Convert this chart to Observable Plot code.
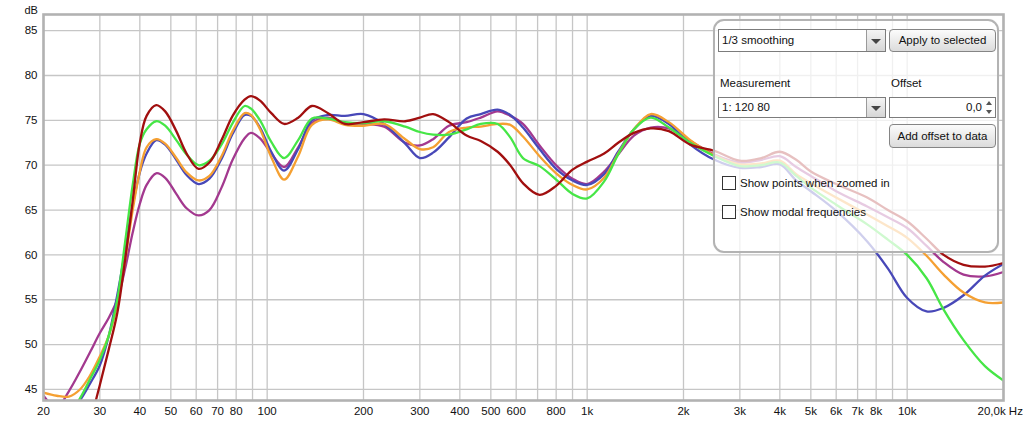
<!DOCTYPE html>
<html>
<head>
<meta charset="utf-8">
<script src="https://cdn.jsdelivr.net/npm/d3@7"></script>
<script src="https://cdn.jsdelivr.net/npm/@observablehq/plot@0.6"></script>
<style>
  html, body { margin: 0; padding: 0; background: #fff; }
  #wrap { position: relative; width: 1024px; height: 421px; font-family: "Liberation Sans", Arial, sans-serif; color: #111; overflow: hidden; }
  #wrap svg { position: absolute; left: 0; top: 0; }
  .abs { position: absolute; box-sizing: border-box; font-size: 11.5px; white-space: nowrap; }
  .panel { left: 713px; top: 19px; width: 286px; height: 234px; border: 2.5px solid #b3b3b3; border-radius: 11px; background: rgba(255,255,255,0.74); box-shadow: 0 0 1px #ddd; }
  .combo { border: 1px solid #7c7c7c; background: #fff; padding-left: 3px; }
  .combo .arr { position: absolute; right: 0; top: 0; bottom: 0; width: 18px; border-left: 1px solid #9a9a9a; background: linear-gradient(#f4f4f4, #d6d6d6); }
  .combo .arr:after { content: ""; position: absolute; left: 4px; top: 50%; margin-top: -2px; border-left: 5px solid transparent; border-right: 5px solid transparent; border-top: 5px solid #444; }
  .btn { border: 1px solid #858585; border-radius: 4px; background: linear-gradient(#fbfbfb, #dcdcdc); text-align: center; }
  .spin { border: 1px solid #7c7c7c; background: #fff; text-align: right; padding-right: 13px; }
  .spin .up, .spin .dn { position: absolute; right: 1px; width: 9px; height: 8px; }
  .spin .up { top: 1px; } .spin .dn { bottom: 1px; }
  .spin .up:after { content: ""; position: absolute; left: 1px; top: 2px; border-left: 3.5px solid transparent; border-right: 3.5px solid transparent; border-bottom: 4px solid #555; }
  .spin .dn:after { content: ""; position: absolute; left: 1px; top: 2px; border-left: 3.5px solid transparent; border-right: 3.5px solid transparent; border-top: 4px solid #555; }
  .chk { width: 14px; height: 14px; border: 1px solid #333; background: #fff; }
</style>
</head>
<body>
<div id="wrap"></div>
<script>
// Frequencies (Hz) shared by all measurements
const freqs = [20, 22, 24, 26, 28, 30, 32, 34, 36, 38, 40, 42, 45, 48, 52, 56, 61, 66, 72, 78, 85, 89, 95, 103, 113, 125, 138, 155, 175, 200, 232, 270, 300, 330, 370, 420, 465, 525, 575, 630, 710, 800, 900, 1000, 1130, 1250, 1400, 1580, 1800, 2100, 2500, 3000, 3500, 4000, 4500, 5000, 6000, 7500, 8700, 10000, 11500, 13000, 15000, 17500, 20000];

const redDB = [36, 36, 36.5, 38, 41.5, 45.5, 49.5, 53.5, 59.5, 66, 72.5, 75.5, 76.7, 76.0, 73.8, 71.3, 69.6, 70.3, 72.8, 75.5, 77.3, 77.7, 77.2, 75.8, 74.6, 75.3, 76.6, 75.8, 74.6, 74.8, 75.1, 74.9, 75.3, 75.7, 74.8, 73.3, 72.7, 71.5, 70.0, 68.0, 66.7, 67.7, 69.5, 70.4, 71.3, 72.5, 73.6, 74.1, 73.8, 72.3, 71.6, 70.5, 70.8, 71.5, 70.6, 69.3, 67.9, 66.4, 65.0, 63.75, 61.8, 60.0, 58.9, 58.7, 59.1];
const greenDB = [40, 40.5, 42, 44.0, 46.2, 48.3, 51.0, 55.0, 61.5, 67.8, 72.4, 74.0, 74.9, 74.4, 72.8, 71.2, 70.0, 70.5, 72.3, 74.7, 76.6, 76.3, 75.0, 72.6, 70.8, 72.8, 75.2, 75.2, 74.8, 74.7, 74.9, 74.3, 73.7, 73.4, 73.4, 74.0, 74.6, 74.6, 73.1, 70.8, 69.9, 68.4, 66.8, 66.3, 68.2, 71.2, 74.0, 75.3, 74.2, 72.5, 71.0, 69.9, 70.0, 70.3, 68.8, 67.5, 65.6, 63.4, 61.7, 60.0, 57.4, 53.9, 50.5, 47.6, 46.0];
const blueDB = [41, 41.5, 42.5, 43.8, 45.7, 47.7, 51.0, 55.5, 60.5, 65.5, 69.2, 71.3, 72.8, 72.3, 70.6, 68.9, 67.9, 68.5, 70.7, 73.5, 75.6, 75.5, 74.2, 71.5, 69.4, 71.8, 75.0, 75.6, 75.5, 75.7, 74.6, 72.4, 70.8, 71.4, 73.1, 75.2, 75.7, 76.2, 75.6, 74.2, 71.8, 69.6, 68.3, 67.8, 69.0, 71.5, 74.0, 75.5, 74.6, 72.3, 70.6, 69.7, 69.8, 70.1, 68.3, 67.1, 64.9, 61.5, 58.5, 55.2, 53.7, 54.1, 55.5, 57.7, 59.0];
const orangeDB = [44.65, 44.3, 44.2, 45.0, 46.6, 48.7, 51.0, 54.5, 59.5, 65.0, 69.3, 72.0, 72.9, 72.4, 70.8, 69.2, 68.3, 68.8, 71.0, 73.8, 75.8, 75.6, 74.0, 70.9, 68.4, 71.0, 74.5, 75.1, 74.5, 74.4, 74.6, 72.9, 71.8, 72.0, 73.7, 74.2, 74.3, 74.6, 74.5, 73.2, 71.0, 69.1, 67.8, 67.3, 68.6, 71.3, 74.0, 75.7, 74.8, 72.8, 71.1, 70.1, 70.2, 70.5, 69.0, 68.0, 66.4, 64.5, 63.2, 61.9, 59.9, 57.8, 55.8, 54.7, 54.7];
const purpleDB = [44.3, 43.0, 44.8, 47.0, 49.2, 51.3, 53.0, 55.0, 58.5, 62.5, 65.7, 67.8, 69.1, 68.6, 66.8, 65.2, 64.4, 65.0, 67.5, 70.6, 73.0, 73.6, 73.0, 71.3, 69.8, 72.0, 74.7, 75.3, 74.7, 74.6, 74.3, 72.5, 72.2, 72.9, 74.4, 74.8, 75.3, 76.0, 75.5, 74.6, 72.2, 70.0, 68.5, 67.9, 69.3, 71.2, 73.3, 74.2, 74.1, 72.7, 71.2, 70.3, 70.6, 71.0, 69.8, 68.8, 67.1, 65.4, 64.2, 63.0, 61.0, 59.2, 57.8, 57.6, 58.1];

// Axis ticks
const yTicks = [45, 50, 55, 60, 65, 70, 75, 80, 85];
const xGrid = [20, 30, 40, 50, 60, 70, 80, 90, 100, 200, 300, 400, 500, 600, 700, 800, 900, 1000, 2000, 3000, 4000, 5000, 6000, 7000, 8000, 9000, 10000, 20000];
const xLabels = [20, 30, 40, 50, 60, 70, 80, 100, 200, 300, 400, 500, 600, 800, 1000, 2000, 3000, 4000, 5000, 6000, 7000, 8000, 10000];
const xLabelEnd = ["20,0k Hz"];

const series = [
  {name: "purple", values: purpleDB, color: "#a3398f"},
  {name: "blue", values: blueDB, color: "#4848b8"},
  {name: "orange", values: orangeDB, color: "#f5a032"},
  {name: "green", values: greenDB, color: "#46e646"},
  {name: "red", values: redDB, color: "#a10f0f"}
];

const fmt = f => f >= 1000 ? (f / 1000) + "k" : String(f);

const lineMarks = series.map(s => Plot.line(
  freqs.map((f, i) => ({f, db: s.values[i]})),
  {x: "f", y: "db", stroke: s.color, strokeWidth: 2.3, curve: "catmull-rom", clip: true}
));

const chart = Plot.plot({
  width: 1024,
  height: 421,
  marginLeft: 43,
  marginRight: 21,
  marginTop: 14,
  marginBottom: 21,
  style: {fontFamily: "'Liberation Sans', Arial, sans-serif", fontSize: "11px", color: "#111", background: "transparent"},
  x: {type: "log", domain: [20, 20000], axis: null},
  y: {domain: [43.77, 86.8], axis: null},
  marks: [
    Plot.ruleX(xGrid, {x: d => d, stroke: "#c6c6c6", strokeWidth: 1.3}),
    Plot.ruleY(yTicks, {y: d => d, stroke: "#c6c6c6", strokeWidth: 1.3}),
    ...lineMarks,
    Plot.frame({stroke: "#b2b2b2", strokeWidth: 2.6}),
    Plot.text(yTicks, {y: d => d, frameAnchor: "left", dx: -6, textAnchor: "end", text: d => String(d), fontSize: 11.5, fill: "#111"}),
    Plot.text(xLabels, {x: d => d, frameAnchor: "bottom", dy: 11, lineAnchor: "middle", text: fmt, fontSize: 11.5, fill: "#111"}),
    Plot.text(xLabelEnd, {x: () => 20000, frameAnchor: "bottom", dy: 11, dx: -26, textAnchor: "start", lineAnchor: "middle", fontSize: 11.5, fill: "#111"}),
    Plot.text(["dB"], {frameAnchor: "top-left", dx: -19, dy: -8, textAnchor: "start", fontSize: 11, fill: "#111"})
  ]
});

const wrap = document.getElementById("wrap");
wrap.appendChild(chart);
wrap.insertAdjacentHTML("beforeend", `
  <div class="abs panel"></div>
  <div class="abs combo" style="left:718px;top:29px;width:168px;height:23px;line-height:21px;">1/3 smoothing<div class="arr"></div></div>
  <div class="abs btn" style="left:889px;top:29px;width:107px;height:23px;line-height:21px;">Apply to selected</div>
  <div class="abs" style="left:720px;top:76px;line-height:14px;">Measurement</div>
  <div class="abs" style="left:891px;top:76px;line-height:14px;">Offset</div>
  <div class="abs combo" style="left:718px;top:97px;width:168px;height:21px;line-height:19px;">1: 120 80<div class="arr"></div></div>
  <div class="abs spin" style="left:889px;top:97px;width:107px;height:21px;line-height:19px;">0,0<div class="up"></div><div class="dn"></div></div>
  <div class="abs btn" style="left:889px;top:124px;width:107px;height:24px;line-height:22px;">Add offset to data</div>
  <div class="abs chk" style="left:722px;top:176px;"></div>
  <div class="abs" style="left:740px;top:176px;line-height:14px;">Show points when zoomed in</div>
  <div class="abs chk" style="left:722px;top:205px;"></div>
  <div class="abs" style="left:740px;top:205px;line-height:14px;">Show modal frequencies</div>
`);
</script>
</body>
</html>
